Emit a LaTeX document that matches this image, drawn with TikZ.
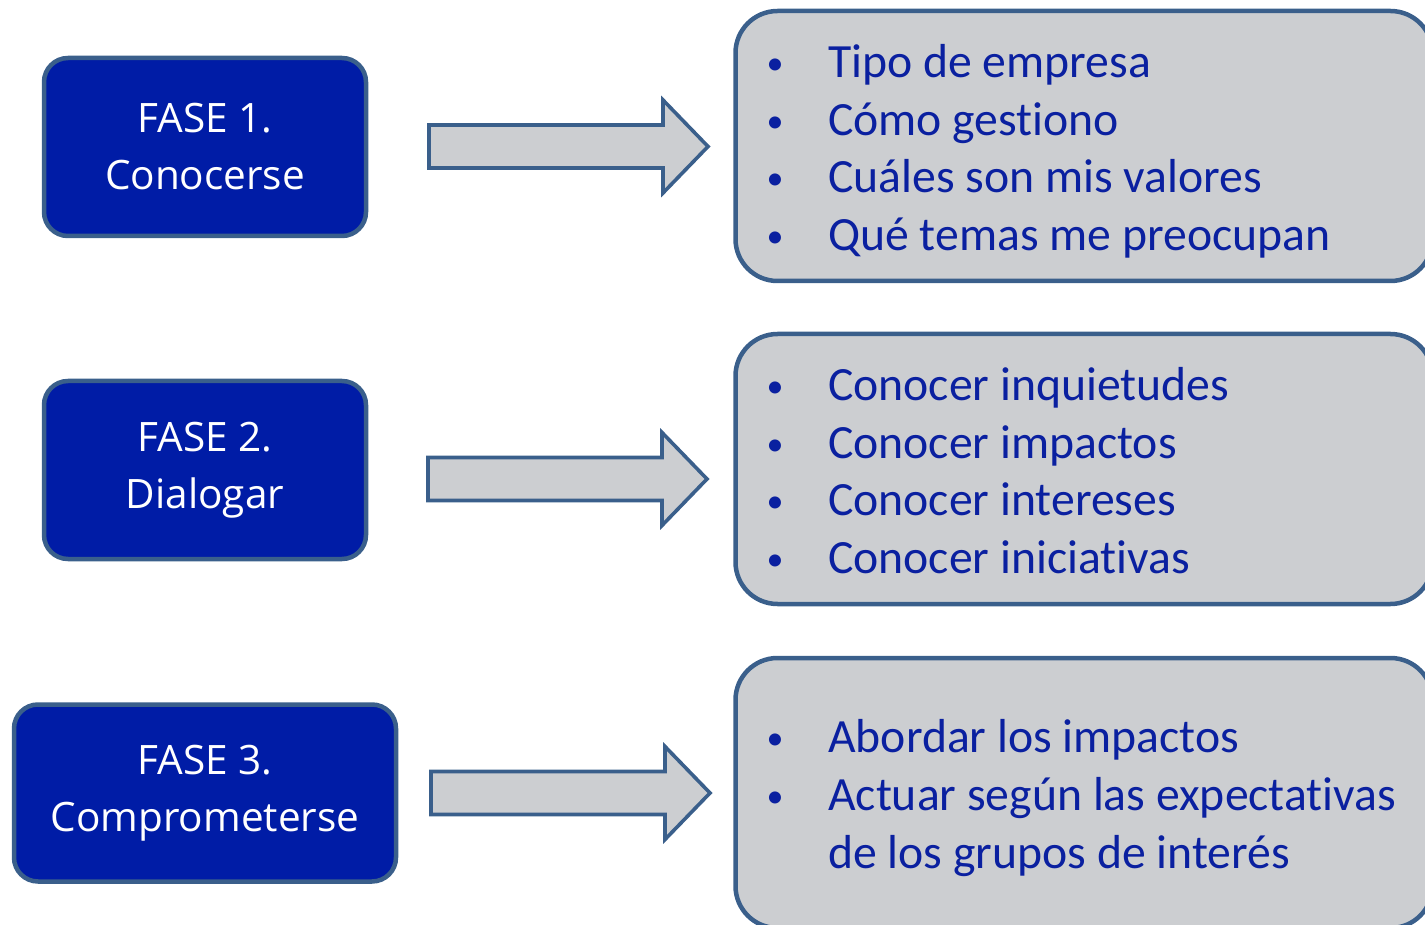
\documentclass[tikz,border=0pt]{standalone}
\usepackage{fontspec}
\setmainfont[Ligatures={NoCommon}]{Carlito}
\newfontfamily\fasefont{Open Sans}
\definecolor{phaseblue}{HTML}{001CA6}
\definecolor{edgeblue}{HTML}{3A5F8B}
\definecolor{panelgray}{HTML}{CCCED1}
\definecolor{itemblue}{HTML}{0A20A0}
\tikzset{
  phasebox/.style={draw=edgeblue, line width=4.5pt, fill=phaseblue, rounded corners=24pt,
    text=white, font=\fasefont\fontsize{40.5}{57}\selectfont, align=center, inner sep=0pt},
  panel/.style={draw=edgeblue, line width=4.5pt, fill=panelgray, rounded corners=42pt,
    minimum width=697pt, minimum height=270pt, inner sep=0pt},
  blockarrow/.style={draw=edgeblue, line width=3.6pt, fill=panelgray, line join=miter},
  itemtext/.style={text=itemblue, font=\fontsize{47.7}{58}\selectfont, anchor=base west, inner sep=0pt},
  bulletmark/.style={text=itemblue, font=\fontsize{34}{40}\selectfont, anchor=base, inner sep=0pt}
}
\newcommand{\blockarr}[2]{% #1 = y centre, #2 = x offset
  \draw[blockarrow] (430+#2,#1-21.5) -- (664+#2,#1-21.5) -- (664+#2,#1-46.5) -- (709+#2,#1)
    -- (664+#2,#1+46.5) -- (664+#2,#1+21.5) -- (430+#2,#1+21.5) -- cycle;}
\begin{document}
\begin{tikzpicture}[x=1pt,y=-1pt]
\useasboundingbox (0,0) rectangle (1425,925);
\clip (0,0) rectangle (1425,925);

% phase boxes
\node[phasebox, minimum width=322pt, minimum height=178pt] (f1) at (205,147) {FASE 1.\\Conocerse};
\node[phasebox, minimum width=322pt, minimum height=178pt] (f2) at (205,470) {FASE 2.\\Dialogar};
\node[phasebox, minimum width=382pt, minimum height=177pt] (f3) at (205,793) {FASE 3.\\Comprometerse};

% arrows
\blockarr{146.5}{-1}
\blockarr{479}{-2}
\blockarr{793}{1}

% panels
\node[panel] (p1) at (1084,146) {};
\node[panel] (p2) at (1084,469) {};
\node[panel] (p3) at (1084,793) {};

% panel 1 items
\foreach \yy/\tt [count=\i] in {78/Tipo de empresa, 136/Cómo gestiono, 193/Cuáles son mis valores, 251/Qué temas me preocupan}{
  \node[bulletmark] (b1\i) at (775,\yy-3) {•};
  \node[itemtext] (t1\i) at (828,\yy) {\tt};
}
% panel 2 items
\foreach \yy/\tt [count=\i] in {400/Conocer inquietudes, 458/Conocer impactos, 515/Conocer intereses, 573/Conocer iniciativas}{
  \node[bulletmark] (b2\i) at (775,\yy-3) {•};
  \node[itemtext] (t2\i) at (828,\yy) {\tt};
}
% panel 3 items
\node[bulletmark] (b31) at (775,749) {•};
\node[itemtext] (t31) at (828,752) {Abordar los impactos};
\node[bulletmark] (b32) at (775,807) {•};
\node[itemtext] (t32) at (828,810) {Actuar según las expectativas};
\node[itemtext] (t33) at (828,868) {de los grupos de interés};
\end{tikzpicture}
\end{document}
